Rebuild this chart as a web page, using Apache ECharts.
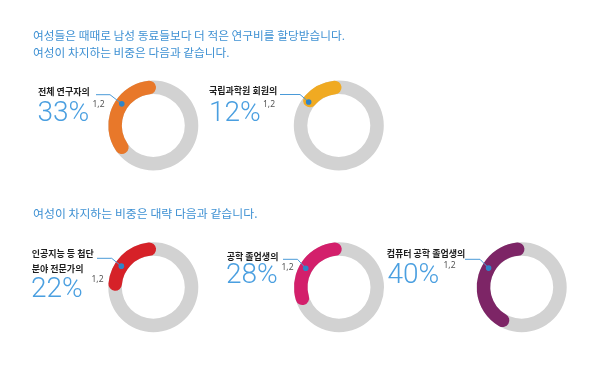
<!DOCTYPE html>
<html><head><meta charset="utf-8">
<script src="https://cdn.jsdelivr.net/npm/echarts@6/dist/echarts.min.js"></script>
<style>html,body{margin:0;padding:0;background:#fff}#c{width:600px;height:366px}</style>
</head><body><div id="c"></div>
<script>
// ---- data ----
var titleLines = ['여성들은 때때로 남성 동료들보다 더 적은 연구비를 할당받습니다.', '여성이 차지하는 비중은 다음과 같습니다.'];
var subtitle = '여성이 차지하는 비중은 대략 다음과 같습니다.';
var categories = [['전체 연구자의'], ['국립과학원 회원의'], ['인공지능 등 첨단', '분야 전문가의'], ['공학 졸업생의'], ['컴퓨터 공학 졸업생의']];
var values = [33, 12, 22, 28, 40];
var footnotes = ['1,2', '1,2', '1,2', '1,2', '1,2'];
var colors = ['#E8782A', '#F0AA22', '#D62128', '#D31F6B', '#7D2566'];

// ---- layout (positions only) ----
var layout = [
  {cx:153.3, cy:125.5, lx:38,    ly:[91.5],        px:37.5,  py:113.5, sx:92.5,  sy:105,   lineX0:96,  lineX1:110,   lineY:94.7,  dotA:145.5},
  {cx:338.8, cy:125.5, lx:209,   ly:[91],          px:209,   py:113.5, sx:263,   sy:105,   lineX0:280, lineX1:300,   lineY:94.5,  dotA:142},
  {cx:153.3, cy:287.2, lx:31.7,  ly:[253.3,268.3], px:31,    py:289.5, sx:91.5,  sy:280,   lineX0:97,  lineX1:111.7, lineY:258.3, dotA:146.6},
  {cx:339,   cy:287.2, lx:226.7, ly:[256.7],       px:226,   py:276,   sx:281.5, sy:267.5, lineX0:283, lineX1:297.5, lineY:259.3, dotA:150.4},
  {cx:521.7, cy:287.2, lx:386.7, ly:[254],         px:387.5, py:276,   sx:443.5, sy:265.5, lineX0:465, lineX1:480,   lineY:259.3, dotA:150}
];
var R0 = 31.5, R1 = 45;
var BLUE = '#3F91D3';

var chart = echarts.init(document.getElementById('c'), null, {renderer:'canvas'});
var polar = [], angleAxis = [], radiusAxis = [], series = [], graphic = [];
values.forEach(function (v, i) {
  var L = layout[i];
  polar.push({center:[L.cx, L.cy], radius:[R0, R1]});
  angleAxis.push({polarIndex:i, type:'value', min:0, max:100, startAngle:96, clockwise:false, show:false});
  radiusAxis.push({polarIndex:i, type:'category', data:['v'], show:false});
  series.push({type:'bar', coordinateSystem:'polar', polarIndex:i, data:[v], roundCap:true,
    barCategoryGap:'0%', showBackground:true, backgroundStyle:{color:'#D2D2D2', opacity:1},
    itemStyle:{color:colors[i]}, silent:true, animation:false});
  categories[i].forEach(function (t, k) {
    graphic.push({type:'text', x:L.lx, y:L.ly[k], style:{text:t, fill:'#1e1e1e',
      font:'bold 9px "Noto Sans CJK KR"', textVerticalAlign:'middle'}});
  });
  graphic.push({type:'text', x:L.px, y:L.py, style:{text:v + '%', fill:'#4A9FE0',
    font:'300 28px Roboto', textVerticalAlign:'middle'}});
  graphic.push({type:'text', x:L.sx, y:L.sy, style:{text:footnotes[i], fill:'#555',
    font:'8.5px "Noto Sans"', textVerticalAlign:'middle'}});
  var rm = (R0 + R1) / 2, a = L.dotA * Math.PI / 180;
  var dx = L.cx + rm * Math.cos(a), dy = L.cy - rm * Math.sin(a);
  graphic.push({type:'polyline', shape:{points:[[L.lineX0, L.lineY],[L.lineX1, L.lineY],[dx, dy]]},
    style:{stroke:'#4A9AD8', lineWidth:1, fill:null}, z:10});
  graphic.push({type:'circle', shape:{cx:dx, cy:dy, r:2.8}, style:{fill:'#2F84C8'}, z:11});
});
titleLines.forEach(function (t, k) {
  graphic.push({type:'text', x:33, y:36 + k*16.5, style:{text:t, fill:BLUE,
    font:'11.7px "Noto Sans CJK KR"', textVerticalAlign:'middle'}});
});
graphic.push({type:'text', x:33, y:213.3, style:{text:subtitle, fill:BLUE,
  font:'11.9px "Noto Sans CJK KR"', textVerticalAlign:'middle'}});

chart.setOption({animation:false, polar:polar, angleAxis:angleAxis, radiusAxis:radiusAxis, series:series, graphic:graphic});
</script></body></html>
